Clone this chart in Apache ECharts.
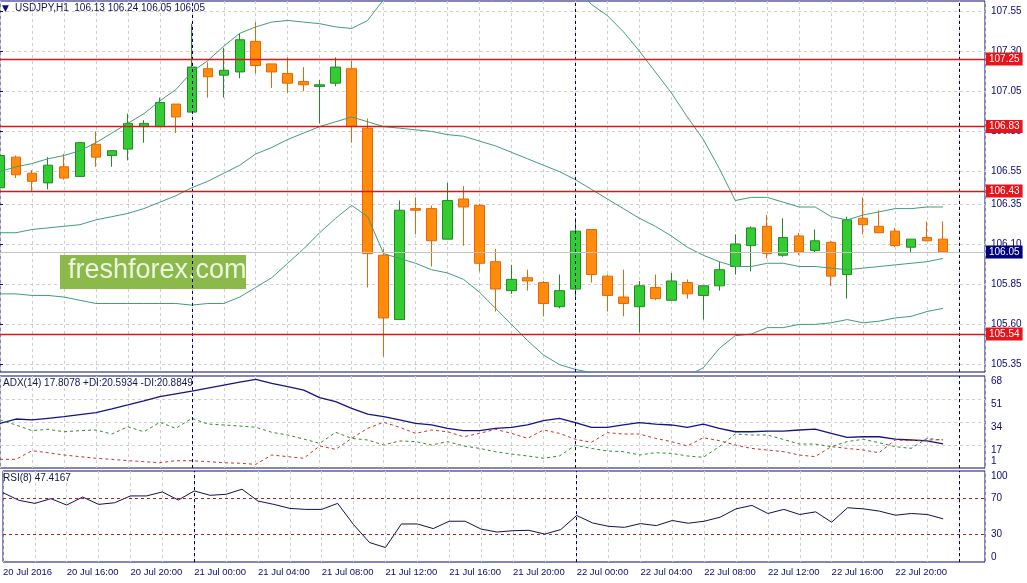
<!DOCTYPE html>
<html>
<head>
<meta charset="utf-8">
<title>USDJPY,H1</title>
<script src="https://cdn.jsdelivr.net/npm/echarts@6/dist/echarts.min.js"></script>
<style>
    html, body { margin: 0; padding: 0; background: #ffffff; }
    #chart { width: 1027px; height: 583px; }
</style>
</head>
<body>
<div id="chart"></div>
<script>
// hourly bars, 20 Jul 12:00 .. 22 Jul 23:00, one time label every 4 bars
var tickLabels = ['20 Jul 2016', '20 Jul 16:00', '20 Jul 20:00', '21 Jul 00:00', '21 Jul 04:00',
    '21 Jul 08:00', '21 Jul 12:00', '21 Jul 16:00', '21 Jul 20:00', '22 Jul 00:00',
    '22 Jul 04:00', '22 Jul 08:00', '22 Jul 12:00', '22 Jul 16:00', '22 Jul 20:00'];
var daySeparators = [12, 36, 60]; // bar index of 21 Jul 00:00, 22 Jul 00:00, 23 Jul 00:00

var openP = [106.45, 106.64, 106.54, 106.48, 106.58, 106.52, 106.72, 106.65, 106.69, 106.83,
    106.83, 106.97, 106.92, 107.19, 107.15, 107.17, 107.36, 107.22, 107.16, 107.11,
    107.08, 107.10, 107.19, 106.82, 106.03, 105.63, 106.32, 106.32, 106.13, 106.38,
    106.34, 105.99, 105.81, 105.89, 105.86, 105.71, 105.82, 106.19, 105.90, 105.77,
    105.71, 105.83, 105.75, 105.86, 105.78, 105.84, 105.96, 106.09, 106.21, 106.03,
    106.15, 106.06, 106.11, 105.91, 106.26, 106.21, 106.18, 106.08, 106.14, 106.13];
var highP = [106.68, 106.65, 106.56, 106.64, 106.66, 106.73, 106.80, 106.68, 106.91, 106.87,
    107.01, 106.97, 107.47, 107.23, 107.32, 107.41, 107.48, 107.22, 107.26, 107.20,
    107.12, 107.26, 107.24, 106.88, 106.07, 106.37, 106.39, 106.34, 106.48, 106.46,
    106.35, 106.07, 105.97, 105.94, 105.87, 105.91, 106.26, 106.19, 105.91, 105.94,
    105.87, 105.91, 105.92, 105.88, 105.84, 105.99, 106.16, 106.21, 106.28, 106.26,
    106.17, 106.19, 106.12, 106.27, 106.39, 106.31, 106.20, 106.13, 106.24, 106.24];
var lowP = [106.43, 106.51, 106.43, 106.44, 106.50, 106.52, 106.58, 106.58, 106.62, 106.73,
    106.83, 106.79, 106.92, 107.01, 107.01, 107.13, 107.16, 107.07, 107.04, 107.05,
    106.85, 107.08, 106.73, 105.83, 105.40, 105.63, 106.16, 105.96, 106.13, 106.09,
    105.93, 105.68, 105.79, 105.81, 105.65, 105.70, 105.76, 105.86, 105.68, 105.65,
    105.55, 105.75, 105.75, 105.76, 105.63, 105.81, 105.91, 105.93, 106.01, 106.02,
    106.03, 106.05, 105.84, 105.76, 106.16, 106.17, 106.08, 106.05, 106.12, 106.05];
var closeP = [106.65, 106.53, 106.49, 106.59, 106.51, 106.73, 106.64, 106.68, 106.85, 106.85,
    106.98, 106.89, 107.20, 107.14, 107.18, 107.37, 107.21, 107.17, 107.10, 107.09,
    107.09, 107.20, 106.83, 106.04, 105.64, 106.31, 106.31, 106.12, 106.37, 106.33,
    105.98, 105.82, 105.88, 105.87, 105.73, 105.81, 106.18, 105.91, 105.78, 105.73,
    105.84, 105.76, 105.87, 105.79, 105.84, 105.94, 106.10, 106.20, 106.04, 106.14,
    106.05, 106.12, 105.90, 106.25, 106.22, 106.17, 106.09, 106.13, 106.12, 106.05];

// Bollinger bands (parts beyond the panel are guessed)
var bbUpper = [106.55, 106.58, 106.60, 106.63, 106.65, 106.68, 106.73, 106.79, 106.85, 106.91,
    106.99, 107.06, 107.17, 107.24, 107.33, 107.41, 107.45, 107.48, 107.49, 107.48,
    107.47, 107.45, 107.44, 107.49, 107.62, 107.71, 107.78, 107.83, 107.86, 107.88,
    107.89, 107.89, 107.88, 107.86, 107.83, 107.78, 107.70, 107.59, 107.52, 107.42,
    107.30, 107.17, 107.04, 106.89, 106.75, 106.57, 106.37, 106.39, 106.39, 106.36,
    106.33, 106.33, 106.27, 106.25, 106.28, 106.30, 106.32, 106.32, 106.33, 106.33];
var bbMiddle = [106.17, 106.17, 106.19, 106.20, 106.21, 106.22, 106.25, 106.27, 106.29, 106.32,
    106.36, 106.40, 106.45, 106.49, 106.54, 106.59, 106.66, 106.70, 106.75, 106.79,
    106.83, 106.86, 106.89, 106.86, 106.83, 106.82, 106.81, 106.80, 106.78, 106.77,
    106.74, 106.71, 106.67, 106.63, 106.59, 106.55, 106.50, 106.44, 106.38, 106.32,
    106.26, 106.21, 106.15, 106.08, 106.03, 105.99, 105.96, 105.96, 105.98, 105.98,
    105.96, 105.96, 105.95, 105.94, 105.95, 105.96, 105.97, 105.98, 105.99, 106.01];
var bbLower = [105.79, 105.79, 105.78, 105.78, 105.77, 105.75, 105.73, 105.73, 105.73, 105.73,
    105.73, 105.73, 105.72, 105.73, 105.73, 105.77, 105.83, 105.89, 105.98, 106.07,
    106.17, 106.26, 106.34, 106.27, 106.04, 106.01, 105.98, 105.94, 105.92, 105.88,
    105.80, 105.70, 105.60, 105.50, 105.41, 105.35, 105.32, 105.30, 105.26, 105.22,
    105.20, 105.21, 105.24, 105.28, 105.33, 105.45, 105.53, 105.54, 105.58, 105.58,
    105.60, 105.60, 105.61, 105.63, 105.61, 105.62, 105.64, 105.65, 105.68, 105.70];

var adx = [33.0, 36.2, 35.5, 36.7, 37.9, 39.4, 40.9, 43.7, 46.6, 49.6,
    52.7, 54.8, 56.9, 59.1, 61.3, 63.4, 65.5, 62.6, 60.1, 57.6,
    52.0, 49.0, 44.1, 39.9, 37.9, 35.5, 33.0, 31.8, 29.3, 27.6,
    27.6, 29.3, 30.1, 31.8, 35.0, 36.7, 33.5, 30.1, 30.1, 31.8,
    33.5, 32.5, 31.8, 30.1, 32.5, 29.3, 26.8, 26.8, 27.3, 27.3,
    28.1, 28.8, 25.6, 22.7, 23.1, 23.1, 21.4, 20.7, 20.0, 17.8078];
var plusDI = [35.5, 31.8, 27.6, 28.6, 26.8, 27.6, 28.1, 25.1, 30.5, 26.8,
    33.8, 29.3, 36.7, 32.5, 31.8, 31.0, 30.1, 26.4, 24.4, 21.4,
    18.2, 26.4, 21.9, 20.7, 17.0, 20.0, 19.5, 17.0, 19.5, 16.3,
    14.5, 12.0, 10.3, 8.9, 7.2, 8.9, 16.8, 14.5, 12.6, 12.1,
    9.6, 11.3, 10.8, 8.9, 7.9, 15.8, 25.1, 24.4, 24.4, 21.2,
    17.7, 17.7, 15.8, 19.5, 21.2, 18.7, 15.8, 14.5, 21.9, 20.5934];
var minusDI = [6.4, 6.4, 12.8, 11.3, 9.6, 8.4, 7.2, 6.4, 5.4, 4.7,
    3.9, 5.4, 5.4, 4.7, 3.9, 3.5, 2.7, 9.6, 8.4, 7.2,
    16.3, 13.8, 21.9, 29.3, 33.8, 30.1, 25.6, 28.1, 26.8, 23.1,
    25.6, 28.6, 25.6, 21.9, 28.1, 25.6, 21.2, 19.0, 26.1, 25.1,
    25.1, 21.9, 19.5, 16.3, 22.4, 20.2, 17.0, 14.5, 13.3, 12.1,
    9.6, 8.4, 15.8, 14.5, 13.3, 11.3, 20.7, 20.2, 20.7, 20.8849];
var rsi = [76.2, 67.8, 64.4, 69.6, 62.6, 71.4, 63.3, 65.1, 72.6, 72.6,
    77.0, 68.1, 78.1, 73.3, 74.4, 80.0, 67.0, 63.3, 58.9, 57.8,
    57.8, 64.4, 41.1, 21.4, 15.9, 41.8, 41.8, 36.7, 44.8, 44.8,
    36.2, 32.9, 34.4, 34.8, 30.7, 35.6, 51.1, 42.9, 39.2, 38.1,
    42.2, 40.0, 45.6, 42.6, 44.8, 49.2, 58.4, 62.2, 53.3, 57.8,
    52.2, 55.1, 43.7, 59.6, 58.4, 55.9, 51.4, 53.3, 52.2, 47.4167];

var levels = [107.25, 106.83, 106.43, 105.54];
var priceTicks = [107.55, 107.30, 107.05, 106.80, 106.55, 106.35, 106.10, 105.85, 105.60, 105.35];
var adxTicks = [1, 17, 34, 51, 68];
var adxGrid = [17, 34, 51];
var rsiTicks = [0, 30, 70, 100];
var rsiLevels = [70, 30];

var font = 'Liberation Sans, Arial, sans-serif';
var navy = '#0a0a78';
var gridGray = '#cfcfcf';

var myChart = echarts.init(document.getElementById('chart'));

function pairs(arr) {
    return arr.map(function (v, i) { return [i, v]; });
}

var candles = openP.map(function (o, i) {
    return [i, o, closeP[i], lowP[i], highP[i]];
});
var last = closeP[closeP.length - 1];

var sepLines = daySeparators.map(function (x) {
    return { xAxis: x, lineStyle: { color: '#000060', type: [3, 3], width: 1 }, label: { show: false } };
});

function boxLabel(bg) {
    return {
        show: true, position: 'end', distance: 1,
        backgroundColor: bg, color: '#ffffff', padding: [2, 3, 1, 3],
        fontFamily: font, fontSize: 10,
        formatter: function (p) { return p.value.toFixed(2); }
    };
}

var xBase = {
    type: 'value', min: 0, max: 61.625, interval: 2,
    axisLine: { show: false }, axisTick: { show: false },
    axisLabel: { show: false },
    splitLine: { show: true, lineStyle: { color: gridGray, type: [3, 3] } }
};

var option = {
    animation: false,
    backgroundColor: '#ffffff',
    grid: [
        { left: -1, width: 986, top: 1, height: 371, show: true, borderColor: navy, borderWidth: 1 },
        { left: -1, width: 986, top: 376, height: 92, show: true, borderColor: navy, borderWidth: 1 },
        { left: -1, width: 986, top: 471, height: 91, show: true, borderColor: navy, borderWidth: 1 }
    ],
    xAxis: [
        Object.assign({}, xBase, { gridIndex: 0 }),
        Object.assign({}, xBase, { gridIndex: 1 }),
        Object.assign({}, xBase, {
            gridIndex: 2,
            axisLabel: {
                show: true, align: 'left', margin: 5,
                color: navy, fontFamily: font, fontSize: 9.5,
                formatter: function (v) {
                    return (v % 4 === 0 && tickLabels[v / 4]) ? tickLabels[v / 4] : '';
                }
            }
        })
    ],
    yAxis: [
        {
            gridIndex: 0, type: 'value', position: 'right',
            min: 105.304, max: 107.611,
            axisLine: { show: false },
            axisTick: { show: true, length: 3, customValues: priceTicks, lineStyle: { color: navy } },
            axisLabel: {
                customValues: priceTicks, margin: 6, color: navy, fontFamily: font, fontSize: 10,
                formatter: function (v) { return v.toFixed(2); }
            },
            splitLine: { show: true, lineStyle: { color: gridGray, type: [3, 3] } }
        },
        {
            gridIndex: 1, type: 'value', position: 'right', min: 0, max: 68,
            axisLine: { show: false },
            axisTick: { show: false, customValues: adxGrid },
            axisLabel: {
                customValues: adxTicks, margin: 6, color: navy, fontFamily: font, fontSize: 10,
                verticalAlign: 'top', verticalAlignMinLabel: 'bottom'
            },
            splitLine: { show: true, lineStyle: { color: gridGray, type: [3, 3] } }
        },
        {
            gridIndex: 2, type: 'value', position: 'right', min: 0, max: 100,
            axisLine: { show: false },
            axisTick: { show: false, customValues: rsiTicks },
            axisLabel: {
                customValues: rsiTicks, margin: 6, color: navy, fontFamily: font, fontSize: 10,
                verticalAlignMinLabel: 'bottom', verticalAlignMaxLabel: 'top'
            },
            splitLine: { show: false }
        }
    ],
    graphic: [
        { type: 'text', left: 2, top: 4, z: 5, style: { text: '\u25BC', fill: navy, font: '9px DejaVu Sans' } },
        { type: 'text', left: 15, top: 3, z: 5, style: { text: 'USDJPY,H1  106.13 106.24 106.05 106.05', fill: '#141450', font: '10px ' + font } },
        { type: 'text', left: 3, top: 378, z: 5, style: { text: 'ADX(14) 17.8078 +DI:20.5934 -DI:20.8849', fill: '#141450', font: '10px ' + font } },
        { type: 'text', left: 3, top: 473, z: 5, style: { text: 'RSI(8) 47.4167', fill: '#141450', font: '10px ' + font } },
        { type: 'rect', left: 60, top: 255, z: 1, shape: { width: 186, height: 34 }, style: { fill: '#8cba4a' } },
        { type: 'text', left: 68, top: 257, z: 1, style: { text: 'freshforex.com', fill: '#eef5e2', font: '27px ' + font } }
    ],
    series: [
        {
            type: 'candlestick', xAxisIndex: 0, yAxisIndex: 0,
            data: candles, encode: { x: 0, y: [1, 2, 3, 4] },
            barWidth: 10, z: 3,
            itemStyle: {
                color: '#33cc33', color0: '#ff8c0a',
                borderColor: '#228b22', borderColor0: '#e8650a', borderWidth: 1
            },
            markLine: {
                silent: true, symbol: ['none', 'none'], animation: false,
                data: sepLines
            }
        },
        { type: 'line', xAxisIndex: 0, yAxisIndex: 0, data: pairs(bbUpper), symbol: 'none', z: 4, lineStyle: { color: '#3f9e78', width: 1 } },
        {
            type: 'line', xAxisIndex: 0, yAxisIndex: 0, data: pairs(bbMiddle), symbol: 'none', z: 4,
            lineStyle: { color: '#3f9e78', width: 1 },
            // horizontal support/resistance levels and the last price
            markLine: {
                silent: true, symbol: ['none', 'none'], precision: 2, animation: false,
                data: levels.map(function (v) {
                    return { yAxis: v, lineStyle: { color: '#d81818', width: 1.3, type: 'solid', opacity: 1 }, label: boxLabel('#e8141a') };
                }).concat([
                    { yAxis: last, lineStyle: { color: '#c4c4c4', width: 1, type: 'solid', opacity: 1 }, label: boxLabel('#000080') }
                ])
            }
        },
        { type: 'line', xAxisIndex: 0, yAxisIndex: 0, data: pairs(bbLower), symbol: 'none', z: 4, lineStyle: { color: '#3f9e78', width: 1 } },
        {
            type: 'line', xAxisIndex: 1, yAxisIndex: 1, data: pairs(adx), symbol: 'none',
            lineStyle: { color: '#141488', width: 1.3 },
            markLine: { silent: true, symbol: ['none', 'none'], animation: false, data: sepLines }
        },
        { type: 'line', xAxisIndex: 1, yAxisIndex: 1, data: pairs(plusDI), symbol: 'none', lineStyle: { color: '#2e8b2e', width: 1, type: [3, 3] } },
        { type: 'line', xAxisIndex: 1, yAxisIndex: 1, data: pairs(minusDI), symbol: 'none', lineStyle: { color: '#c83228', width: 1, type: [3, 3] } },
        {
            type: 'line', xAxisIndex: 2, yAxisIndex: 2, data: pairs(rsi), symbol: 'none',
            lineStyle: { color: '#101050', width: 1 },
            markLine: {
                silent: true, symbol: ['none', 'none'], animation: false,
                data: rsiLevels.map(function (v) {
                    return { yAxis: v, lineStyle: { color: '#b42020', width: 1, type: [3, 3] }, label: { show: false } };
                }).concat(sepLines)
            }
        }
    ]
};

myChart.setOption(option);
window.addEventListener('resize', function () {
    myChart.resize();
});
</script>
</body>
</html>
